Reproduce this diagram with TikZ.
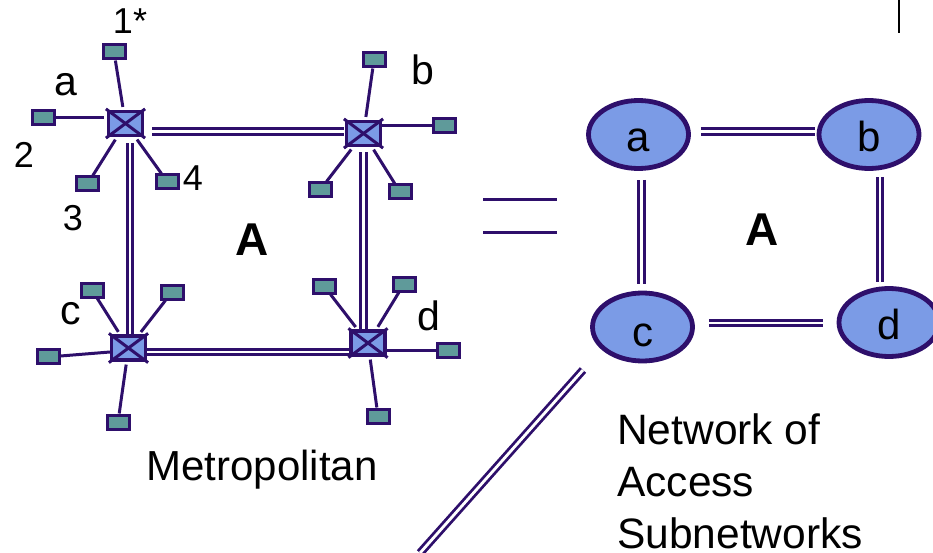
\documentclass[tikz,border=0pt]{standalone}
\usepackage{fontspec}
\setmainfont{Liberation Sans}
\usetikzlibrary{shapes,positioning,calc}
\definecolor{linkcol}{HTML}{2E0F6B}
\definecolor{nodecol}{HTML}{7B9BE6}
\definecolor{termcol}{HTML}{5F9A9A}
\tikzset{
    switch/.style={rectangle, draw=linkcol, fill=nodecol, line width=3.2pt, minimum width=34pt, minimum height=24pt, inner sep=0pt},
    terminal/.style={rectangle, draw=linkcol, fill=termcol, line width=3pt, minimum width=22pt, minimum height=14pt, inner sep=0pt},
    subnet/.style={ellipse, draw=linkcol, fill=nodecol, line width=4.8pt, minimum width=100pt, minimum height=68pt, inner sep=0pt, text height=34pt, text depth=0pt, font=\fontsize{42}{46}\selectfont},
    tag/.style={inner sep=0pt, font=\fontsize{41}{44}\selectfont},
    numtag/.style={inner sep=0pt, font=\fontsize{36}{40}\selectfont},
    link/.style={draw=linkcol, line width=3pt, shorten >=3pt},
    trunk/.style={draw=linkcol, line width=2.8pt, double=white, double distance=2.8pt},
}

\begin{document}
\begin{tikzpicture}[x=1pt,y=-1pt]
  \useasboundingbox (0,0) rectangle (933,553);

  % SWITCHES
  \node [switch] (swa) at (125.5,123.5) {};
  \node [switch] (swb) at (363.5,133.5) {};
  \node [switch] (swc) at (128.5,348) {};
  \node [switch] (swd) at (368,343) {};
  \foreach \sw in {swa,swb,swc,swd} {
    \draw[linkcol, line width=3pt] ($(\sw.north west)+(-1,-1)$) -- ($(\sw.south east)+(1,1)$);
    \draw[linkcol, line width=3pt] ($(\sw.south west)+(-1,1)$) -- ($(\sw.north east)+(1,-1)$);
  }

  % TERMINALS
  \node [terminal] (aone)   at (114,52) {};
  \node [terminal] (atwo)   at (43.5,118) {};
  \node [terminal] (athree) at (87.5,184) {};
  \node [terminal] (afour)  at (167.5,182) {};
  \node [terminal] (bone)   at (374,60) {};
  \node [terminal] (btwo)   at (444,126) {};
  \node [terminal] (bthree) at (320,190) {};
  \node [terminal] (bfour)  at (400,192) {};
  \node [terminal] (cone)   at (92,290) {};
  \node [terminal] (ctwo)   at (172,292) {};
  \node [terminal] (cthree) at (48,356) {};
  \node [terminal] (cfour)  at (118,422) {};
  \node [terminal] (done)   at (324,286) {};
  \node [terminal] (dtwo)   at (404,284) {};
  \node [terminal] (dthree) at (448,350) {};
  \node [terminal] (dfour)  at (378,416) {};

  \draw[link] (aone) -- (swa);
  \draw[link] (atwo) -- (atwo -| swa.west);
  \draw[link] (athree) -- (swa);
  \draw[link] (afour) -- (swa);
  \draw[link] (bone) -- (swb);
  \draw[link, shorten >=0pt] (btwo) -- (btwo -| swb.east);
  \draw[link] (bthree) -- (swb);
  \draw[link] (bfour) -- (swb);
  \draw[link] (cone) -- (swc);
  \draw[link] (ctwo) -- (swc);
  \draw[link, shorten >=0pt] (cthree.east) -- ($(swc.west)+(0,4)$);
  \draw[link] (cfour) -- (swc);
  \draw[link] (done) -- (swd);
  \draw[link] (dtwo) -- (swd);
  \draw[link, shorten >=0pt] (dthree) -- (dthree -| swd.east);
  \draw[link] (dfour) -- (swd);

  % TRUNKS
  \draw[trunk] ($(swa.east)+(8,8)$) -- ($(swb.west)+(-1,-2)$);
  \draw[trunk] ($(swa.south)+(4.5,6)$) -- ($(swc.north)+(1.5,0)$);
  \draw[trunk] ($(swb.south)+(0,5)$) -- ($(swd.north)+(-4.5,0)$);
  \draw[trunk] ($(swc.east)+(0,4)$) -- ($(swd.west)+(0,9)$);

  % LABELS
  \node [numtag] (lone) at (130,21) {1*};
  \node [tag] (laba) at (66,85) {a};
  \node [numtag] (ltwo) at (24,155) {2};
  \node [numtag] (lthree) at (73,218) {3};
  \node [numtag] (lfour) at (193,178) {4};
  \node [tag] (labb) at (423,70) {b};
  \node [tag] (labc) at (71,314) {c};
  \node [tag] (labd) at (429,316) {d};
  \node [tag, font=\fontsize{46}{50}\selectfont\bfseries] (metroarea) at (252,240) {A};
  \node [tag, font=\fontsize{42}{46}\selectfont] (metrotitle) at (262,470) {Metropolitan};

  % SUBNETWORKS
  \node [subnet] (neta) at (638.5,134.5) {a};
  \node [subnet] (netb) at (869,134.5) {b};
  \node [subnet, text height=38pt] (netc) at (642.5,327) {c};
  \node [subnet] (netd) at (889,322.5) {d};

  \draw[trunk] ($(neta.east)+(10,-3)$) -- ($(netb.west)+(-2,-3)$);
  \draw[trunk] ($(neta.south)+(3,9)$) -- ($(netc.north)+(-1,-7)$);
  \draw[trunk] ($(netb.south)+(11,6)$) -- ($(netd.north)+(-9,-4)$);
  \draw[trunk] ($(netc.east)+(14,-4)$) -- ($(netd.west)+(-14,0.5)$);

  \node [tag, font=\fontsize{46}{50}\selectfont\bfseries] (netarea) at (762,230) {A};
  \node [tag, font=\fontsize{42.5}{52}\selectfont, align=left, anchor=north west] (nettitle) at (617,413) {Network of\\Access\\Subnetworks};

  % EQUALS SIGN AND STROKES
  \coordinate (eqa) at (483,200);
  \coordinate (eqb) at (557,200);
  \coordinate (eqc) at (483,232);
  \coordinate (eqd) at (557,232);
  \draw[linkcol, line width=3pt] (eqa) -- (eqb);
  \draw[linkcol, line width=3pt] (eqc) -- (eqd);
  \coordinate (slashtop) at (583,370);
  \coordinate (slashend) at (420,553);
  \draw[trunk] (slashtop) -- (slashend);
  \coordinate (ticktop) at (899,0);
  \coordinate (tickend) at (899,33);
  \draw[black, line width=1.5pt] (ticktop) -- (tickend);
\end{tikzpicture}
\end{document}
